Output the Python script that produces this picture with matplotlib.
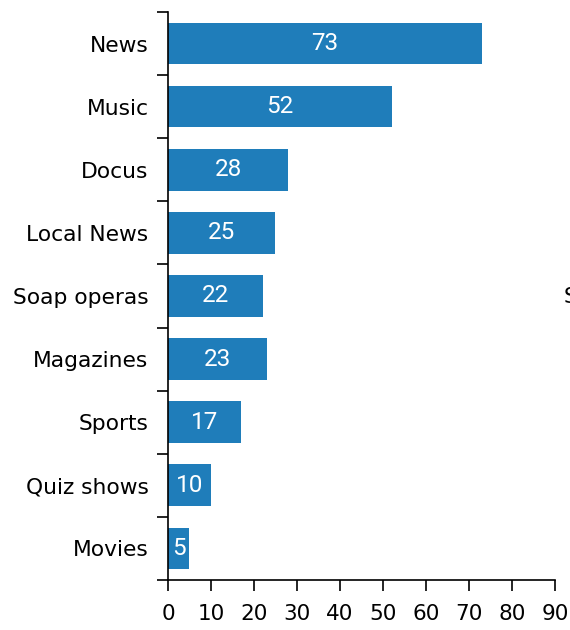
import matplotlib
matplotlib.use("Agg")
from matplotlib import pyplot as plt
import numpy as np

categories = ["News", "Music", "Docus", "Local News", "Soap operas",
              "Magazines", "Sports", "Quiz shows", "Movies"]
values = [73, 52, 28, 25, 22, 23, 17, 10, 5]
xticks = [0, 10, 20, 30, 40, 50, 60, 70, 80, 90]

plt.rcParams['font.family'] = ['DejaVu Sans']

fig = plt.figure(figsize=(5.7, 6.3), dpi=100)
ax = fig.add_axes([0.2947, 0.0794, 0.6790, 0.9016])

pos = np.arange(len(categories))[::-1]
ax.barh(pos, values, height=0.66, color="#1f7dba")

for p, v in zip(pos, values):
    ax.text(v / 2, p, str(v), ha="center", va="center", color="white",
            fontsize=17.5, family="Roboto")

ax.set_xlim(0, 90)
ax.set_ylim(-0.5, len(categories) - 0.5)
ax.set_xticks(xticks)
ax.set_xticklabels([str(t) for t in xticks], fontsize=15.5)

# ticks at band boundaries, labels at centres
ax.set_yticks(np.arange(-0.5, len(categories), 1.0))
ax.set_yticklabels([])
ax.set_yticks(pos, minor=True)
ax.set_yticklabels(categories, minor=True, fontsize=15.7)
ax.tick_params(axis="y", which="major", length=8, width=1.2, direction="out")
ax.tick_params(axis="y", which="minor", length=0, pad=14)
ax.tick_params(axis="x", length=8, width=1.2, direction="out", pad=9)

for s in ["top", "right"]:
    ax.spines[s].set_visible(False)
ax.spines["left"].set_linewidth(1.2)
ax.spines["bottom"].set_linewidth(1.2)

# cut-off label at the right edge
fig.text(564 / 570, 1 - 297 / 630, "Soap operas", fontsize=15.7,
         ha="left", va="center")

fig.savefig("out.png", dpi=100)
